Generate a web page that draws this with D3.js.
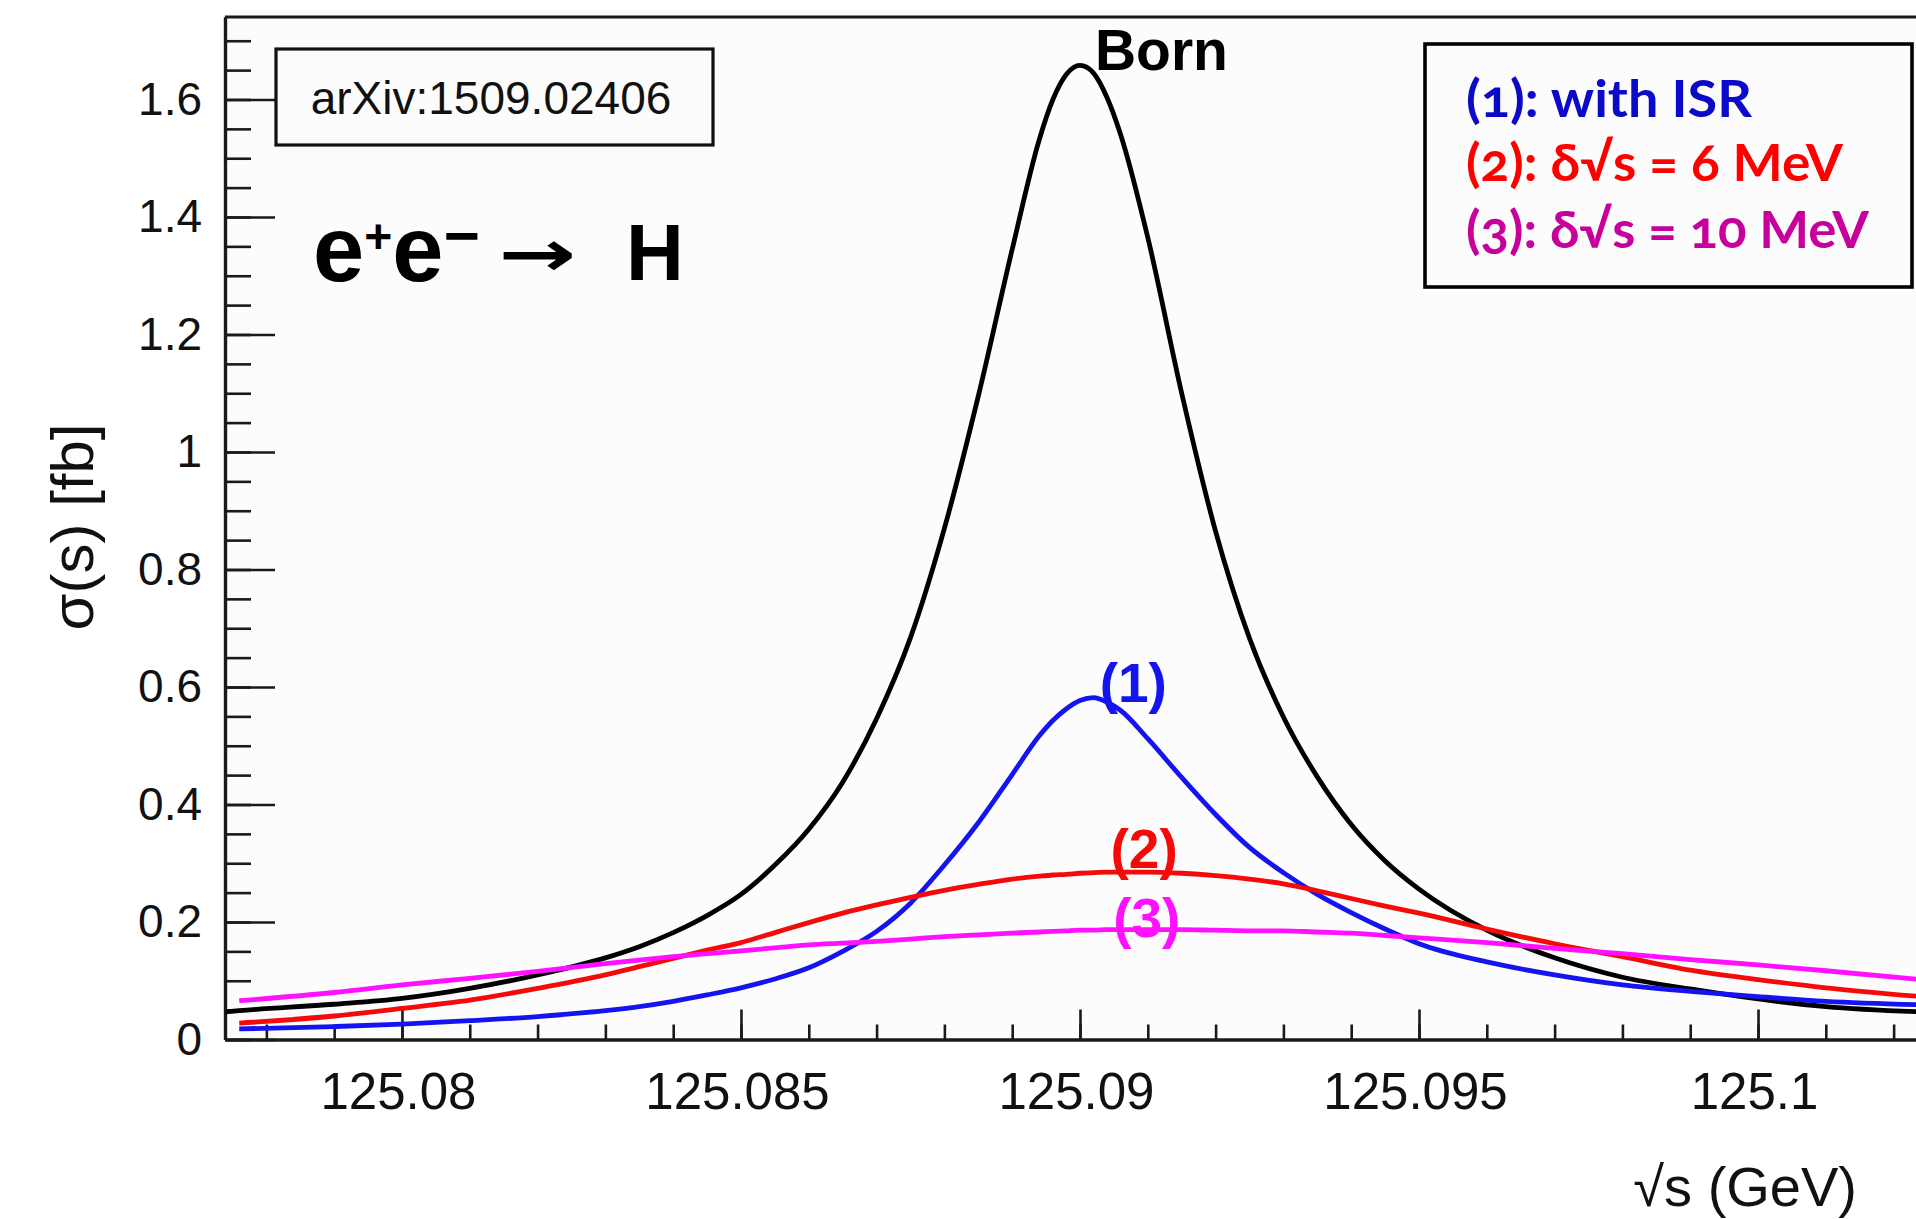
<!DOCTYPE html>
<html>
<head>
<meta charset="utf-8">
<script src="https://cdn.jsdelivr.net/npm/d3@7"></script>
<style>
    body { margin: 0; background: #ffffff; }
</style>
</head>
<body>
<svg id="chart"></svg>
<script>
// sqrt(s) grid in GeV
const sqrtS = [
    125.0774, 125.0776, 125.079, 125.08, 125.081, 125.082, 125.083, 125.0835,
    125.084, 125.0845, 125.085, 125.0855, 125.086, 125.0865, 125.087, 125.0875,
    125.088, 125.0885, 125.089, 125.0894, 125.0896, 125.0898, 125.09, 125.0902,
    125.0904, 125.0906, 125.091, 125.0915, 125.092, 125.0925, 125.093, 125.0935,
    125.094, 125.0945, 125.095, 125.096, 125.097, 125.098, 125.099, 125.1,
    125.101, 125.1024,
];
// sigma(s) in fb
const born = [
    0.047, 0.049, 0.06, 0.07, 0.087, 0.11, 0.139, 0.158,
    0.182, 0.211, 0.247, 0.297, 0.358, 0.438, 0.546, 0.684,
    0.87, 1.095, 1.345, 1.532, 1.6, 1.643, 1.658, 1.645,
    1.603, 1.54, 1.365, 1.1, 0.865, 0.683, 0.549, 0.447,
    0.366, 0.304, 0.256, 0.186, 0.139, 0.106, 0.086, 0.069,
    0.056, 0.047,
];
const withISR = [
    null, 0.018, 0.022, 0.026, 0.032, 0.039, 0.049, 0.056,
    0.065, 0.076, 0.088, 0.103, 0.122, 0.15, 0.184, 0.232,
    0.297, 0.369, 0.451, 0.517, 0.543, 0.563, 0.577, 0.582,
    0.574, 0.56, 0.512, 0.446, 0.383, 0.327, 0.284, 0.247,
    0.216, 0.188, 0.163, 0.132, 0.11, 0.093, 0.082, 0.073,
    0.065, 0.059,
];
const spread6 = [
    null, 0.028, 0.04, 0.053, 0.067, 0.087, 0.11, 0.124,
    0.138, 0.152, 0.165, 0.182, 0.199, 0.215, 0.229, 0.242,
    0.254, 0.264, 0.273, 0.278, 0.28, 0.281, 0.283, 0.284,
    0.285, 0.285, 0.285, 0.283, 0.279, 0.273, 0.265, 0.253,
    0.24, 0.227, 0.215, 0.188, 0.163, 0.141, 0.118, 0.102,
    0.088, 0.073,
];
const spread10 = [
    null, 0.066, 0.08, 0.093, 0.104, 0.116, 0.129, 0.135,
    0.141, 0.146, 0.151, 0.156, 0.161, 0.164, 0.167, 0.171,
    0.175, 0.178, 0.181, 0.183, 0.184, 0.185, 0.186, 0.186,
    0.187, 0.187, 0.187, 0.187, 0.186, 0.185, 0.185, 0.183,
    0.181, 0.177, 0.173, 0.165, 0.155, 0.146, 0.136, 0.127,
    0.117, 0.102,
];

const xTicks = [125.08, 125.085, 125.09, 125.095, 125.1];
const xTickLabels = ['125.08', '125.085', '125.09', '125.095', '125.1'];
const yTicks = [0, 0.2, 0.4, 0.6, 0.8, 1, 1.2, 1.4, 1.6];
const yTickLabels = ['0', '0.2', '0.4', '0.6', '0.8', '1', '1.2', '1.4', '1.6'];

const series = [
    { values: born, color: '#000000' },
    { values: withISR, color: '#1414f0' },
    { values: spread6, color: '#f50a0a' },
    { values: spread10, color: '#ff10ff' },
];

const FONT = "'Liberation Sans', Arial, sans-serif";
const W = 1916;
const H = 1219;
const svg = d3.select('#chart')
    .attr('width', W)
    .attr('height', H)
    .attr('font-family', FONT);

const xScale = d3.scaleLinear().domain([125.07739, 125.10233]).range([225, 1916]);
const yScale = d3.scaleLinear().domain([0, 1.7404]).range([1039.5, 17]);

const [x0, x1] = xScale.range();
const [y0, y1] = yScale.range();

// plot background
svg.append('rect')
    .attr('x', x0).attr('y', y1)
    .attr('width', x1 - x0 + 4).attr('height', y0 - y1)
    .attr('fill', '#fcfcfc');

svg.append('clipPath').attr('id', 'plotClip')
    .append('rect')
    .attr('x', x0).attr('y', y1)
    .attr('width', x1 - x0).attr('height', y0 - y1);

// minor ticks
const xMinor = d3.range(125.078, 125.1025, 0.001);
const yMinor = d3.range(0, 1.72, 0.05);

const gxMinor = svg.append('g')
    .attr('transform', `translate(0,${y0})`)
    .call(d3.axisBottom(xScale).tickValues(xMinor).tickSize(-15).tickSizeOuter(0).tickFormat(''));
const gyMinor = svg.append('g')
    .attr('transform', `translate(${x0},0)`)
    .call(d3.axisLeft(yScale).tickValues(yMinor).tickSize(-26).tickSizeOuter(0).tickFormat(''));

// major ticks + labels
const gx = svg.append('g')
    .attr('transform', `translate(0,${y0})`)
    .call(
        d3.axisBottom(xScale)
            .tickValues(xTicks)
            .tickSize(-30)
            .tickSizeOuter(0)
            .tickPadding(33)
            .tickFormat((d, i) => xTickLabels[i])
    );
const gy = svg.append('g')
    .attr('transform', `translate(${x0},0)`)
    .call(
        d3.axisLeft(yScale)
            .tickValues(yTicks)
            .tickSize(-50)
            .tickSizeOuter(0)
            .tickPadding(23)
            .tickFormat((d, i) => yTickLabels[i])
    );

[gxMinor, gyMinor, gx, gy].forEach((g) => {
    g.attr('color', '#1a1a1a');
    g.selectAll('.tick line').attr('stroke-width', 2.6);
    g.select('.domain').attr('stroke-width', 3.2);
});
gx.selectAll('text')
    .attr('x', -4)
    .attr('font-size', 51)
    .attr('font-family', FONT)
    .attr('fill', '#111');
gy.selectAll('text')
    .attr('font-size', 46)
    .attr('font-family', FONT)
    .attr('fill', '#111');

// top frame line
svg.append('line')
    .attr('x1', x0).attr('x2', x1 + 4)
    .attr('y1', y1).attr('y2', y1)
    .attr('stroke', '#1a1a1a')
    .attr('stroke-width', 3.2);

// curves
const lineGenerator = d3
    .line()
    .defined((d) => d[1] !== null)
    .x((d) => xScale(d[0]))
    .y((d) => yScale(d[1]))
    .curve(d3.curveMonotoneX);

const curves = svg.append('g').attr('clip-path', 'url(#plotClip)');
series.forEach((s) => {
    curves.append('path')
        .attr('d', lineGenerator(sqrtS.map((v, i) => [v, s.values[i]])))
        .attr('fill', 'none')
        .attr('stroke', s.color)
        .attr('stroke-width', 4.8)
        .attr('stroke-linejoin', 'round');
});

// curve labels
const curveLabel = (txt, xv, yv, color, size) =>
    svg.append('text')
        .attr('x', xScale(xv)).attr('y', yScale(yv))
        .attr('font-size', size)
        .attr('font-weight', 'bold')
        .attr('fill', color)
        .text(txt);
curveLabel('Born', 125.09022, 1.651, '#000000', 57);
curveLabel('(1)', 125.09029, 0.575, '#1414f0', 55);
curveLabel('(2)', 125.09045, 0.292, '#f50a0a', 55);
curveLabel('(3)', 125.09049, 0.174, '#ff10ff', 55);

// arXiv box
svg.append('rect')
    .attr('x', 276).attr('y', 49)
    .attr('width', 437).attr('height', 96)
    .attr('fill', '#fcfcfc')
    .attr('stroke', '#111')
    .attr('stroke-width', 3.2);
svg.append('text')
    .attr('x', 491).attr('y', 114)
    .attr('text-anchor', 'middle')
    .attr('font-size', 46)
    .attr('fill', '#111')
    .text('arXiv:1509.02406');

// process label e+e- -> H
const proc = svg.append('text')
    .attr('x', 313).attr('y', 281)
    .attr('font-weight', 'bold')
    .attr('fill', '#000');
proc.append('tspan').attr('font-size', 92).text('e');
proc.append('tspan').attr('font-size', 48).attr('dy', -28).text('+');
proc.append('tspan').attr('font-size', 92).attr('dy', 28).text('e');
proc.append('tspan').attr('font-size', 62).attr('dy', -24).text('\u2212');

svg.append('text')
    .attr('x', 498).attr('y', 276)
    .attr('font-family', "'DejaVu Sans', sans-serif")
    .attr('font-weight', 'bold')
    .attr('font-size', 64)
    .attr('textLength', 78)
    .attr('lengthAdjust', 'spacingAndGlyphs')
    .text('\u2192');
svg.append('text')
    .attr('x', 626).attr('y', 280)
    .attr('font-weight', 'bold')
    .attr('font-size', 80)
    .text('H');

// legend box
svg.append('rect')
    .attr('x', 1425).attr('y', 44)
    .attr('width', 487).attr('height', 243)
    .attr('fill', '#fcfcfc')
    .attr('stroke', '#000')
    .attr('stroke-width', 3.6);
const legendRows = [
    { txt: '(1): with ISR', color: '#0a0ac8', y: 117, w: 286 },
    { txt: '(2): \u03b4\u221as = 6 MeV', color: '#ff0000', y: 181, w: 377 },
    { txt: '(3): \u03b4\u221as = 10 MeV', color: '#c8009b', y: 248, w: 403 },
];
legendRows.forEach((r) => {
    svg.append('text')
        .attr('x', 1466).attr('y', r.y)
        .attr('font-family', "Lato, 'Open Sans', sans-serif")
        .attr('font-weight', 'bold')
        .attr('font-size', 52)
        .attr('textLength', r.w)
        .attr('lengthAdjust', 'spacingAndGlyphs')
        .style('font-variant-numeric', 'oldstyle-nums')
        .attr('fill', r.color)
        .text(r.txt);
});

// axis titles
svg.append('text')
    .attr('transform', 'translate(93,527) rotate(-90)')
    .attr('text-anchor', 'middle')
    .attr('font-size', 60)
    .attr('fill', '#111')
    .text('\u03c3(s) [fb]');
svg.append('text')
    .attr('x', 1857).attr('y', 1206)
    .attr('text-anchor', 'end')
    .attr('font-size', 56)
    .attr('fill', '#111')
    .text('\u221as (GeV)');
</script>
</body>
</html>
